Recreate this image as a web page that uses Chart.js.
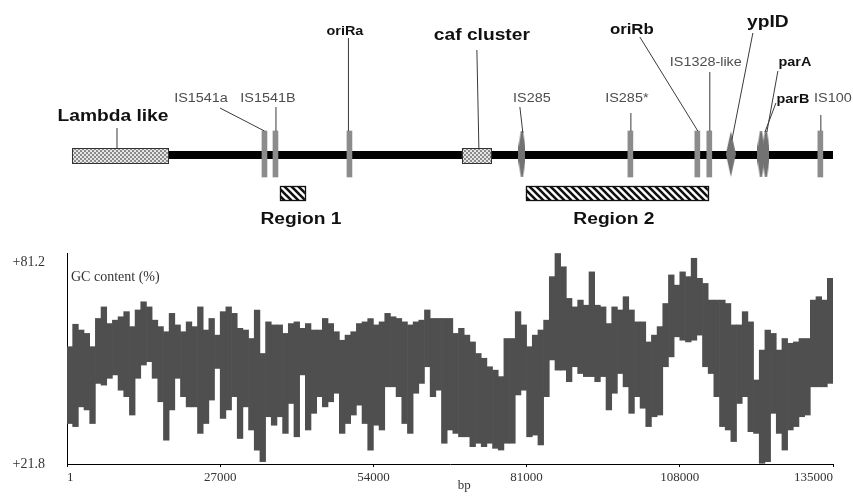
<!DOCTYPE html>
<html>
<head>
<meta charset="utf-8">
<script src="https://cdn.jsdelivr.net/npm/chart.js@4.4.1/dist/chart.umd.min.js"></script>
<style>
  html,body{margin:0;padding:0;background:#fff;}
  #wrap{position:relative;width:853px;height:497px;overflow:hidden;}
  canvas{position:absolute;left:0;}
  #map{top:0;}
  #gc{top:240px;}
</style>
</head>
<body>
<div id="wrap">
  <canvas id="map" width="853" height="240"></canvas>
  <canvas id="gc" width="853" height="257"></canvas>
</div>
<script>
// ---------------- DATA ----------------
const mapStart = 880;
const mapEnd = 135000;

const features   = ['IS1541a','IS1541B','oriRa','IS285','IS285*','oriRb','IS1328-like','ypID','parB','parA','IS100'];
const featurePos = [34800, 36740, 49780, 80170, 99290, 111090, 113200, 117000, 122300, 123170, 132770];

const blocks     = ['Lambda like','caf cluster'];
const blockStart = [880, 69600];
const blockEnd   = [17800, 74700];

const regions     = ['Region 1','Region 2'];
const regionStart = [37530, 80880];
const regionEnd   = [41930, 112940];

const windowBp = 1000;
const gcHigh = [
56.3, 62.9, 61.2, 60.2, 56.3, 64.6, 68.0, 63.1, 64.1, 65.1,
66.6, 62.2, 67.1, 69.5, 68.0, 64.1, 62.2, 60.7, 66.1, 62.7,
60.7, 63.6, 62.2, 68.0, 61.2, 64.6, 59.7, 66.6, 68.0, 66.1,
61.7, 61.2, 58.7, 67.1, 54.3, 63.6, 62.7, 62.7, 60.2, 63.1,
63.6, 61.7, 63.1, 61.2, 61.2, 64.6, 63.1, 60.7, 58.2, 59.7,
60.7, 63.1, 63.6, 64.6, 62.7, 63.6, 66.1, 65.1, 64.6, 63.6,
62.7, 63.6, 64.1, 67.1, 64.6, 64.6, 64.6, 64.6, 60.2, 61.7,
59.7, 57.7, 54.3, 52.9, 50.4, 49.4, 47.5, 58.7, 58.7, 66.6,
62.7, 56.3, 59.7, 61.2, 64.1, 76.9, 83.7, 79.8, 70.5, 68.0,
70.0, 68.5, 78.3, 68.5, 68.0, 63.1, 68.0, 67.1, 71.0, 67.1,
63.6, 63.6, 57.7, 59.7, 62.2, 69.0, 77.4, 74.4, 78.3, 76.9,
82.3, 76.4, 74.9, 70.0, 70.0, 70.0, 69.0, 62.7, 62.7, 66.6,
63.6, 46.5, 55.3, 61.2, 60.2, 55.3, 58.7, 57.3, 57.7, 58.7,
58.7, 70.0, 71.0, 70.0, 76.4
];
const gcLow = [
33.7, 32.8, 38.6, 37.7, 33.7, 45.5, 45.0, 47.0, 48.0, 43.5,
41.6, 36.2, 47.0, 50.9, 51.9, 47.0, 40.1, 28.8, 37.7, 47.0,
41.6, 38.6, 38.6, 30.8, 33.7, 40.6, 49.9, 35.2, 37.7, 41.6,
29.3, 38.6, 31.8, 25.9, 22.5, 35.7, 33.2, 35.7, 30.8, 39.6,
29.8, 48.0, 31.8, 36.7, 41.6, 38.6, 40.1, 42.6, 30.8, 33.7,
36.2, 39.1, 33.7, 25.9, 33.2, 31.8, 44.5, 44.5, 41.6, 33.7,
30.8, 42.6, 45.5, 50.4, 41.6, 43.5, 27.9, 31.8, 30.8, 29.8,
29.8, 26.9, 27.9, 26.9, 27.9, 26.4, 25.9, 27.9, 27.9, 42.1,
43.5, 29.8, 30.3, 27.4, 41.6, 52.4, 49.4, 49.4, 46.0, 50.4,
48.4, 47.5, 47.5, 46.0, 47.5, 37.7, 42.6, 48.4, 44.5, 36.7,
41.6, 38.2, 32.8, 35.7, 36.2, 50.4, 53.3, 59.2, 58.2, 57.7,
58.2, 59.7, 50.4, 48.4, 41.6, 32.8, 31.8, 28.4, 39.6, 41.6,
31.3, 30.8, 22.0, 22.5, 36.7, 30.8, 25.9, 31.8, 32.8, 35.7,
36.2, 44.5, 44.5, 44.5, 45.5
];

const xTicks = [1, 27000, 54000, 81000, 108000, 135000];
const xTickLabels = ['1','27000','54000','81000','108000','135000'];
const yTicks = [21.8, 81.2];
const yTickLabels = ['+21.8','+81.2'];

// ---------------- STYLE / LAYOUT ----------------
const SANS = '"Liberation Sans", Arial, sans-serif';
const SERIF = '"Liberation Serif", "Times New Roman", serif';
const REG = '12px ' + SANS, B12 = 'bold 12px ' + SANS, B14 = 'bold 14px ' + SANS, B16 = 'bold 16px ' + SANS;
const DARK = '#111', GREY = '#4d4d4d';

const track = { axis: 155, barTop: 131, barBottom: 177, boxTop: 148, boxBottom: 163, regTop: 186, regBottom: 200 };

const featureShape = { 'IS285': 'spindle', 'ypID': 'diamond', 'parB': 'spindle', 'parA': 'spindle' };

const labelStyle = {
  'Lambda like': {dx:-7,   y:117, line:[[-3,128],[-3,148]],   font:B16, color:DARK},
  'caf cluster': {dx:5.5,  y:36,  line:[[0.5,50],[2.5,148]],  font:B16, color:DARK},
  'IS1541a':     {dx:-63.5,y:99,  line:[[-44.5,108],[0,131]], font:REG, color:GREY},
  'IS1541B':     {dx:-7.5, y:99,  line:[[0.5,107],[0.5,131]], font:REG, color:GREY},
  'oriRa':       {dx:-4.5, y:32,  line:[[-1,38],[-1,131]],    font:B12, color:DARK},
  'IS285':       {dx:10,   y:99,  line:[[-2,107],[1,133]],    font:REG, color:GREY},
  'IS285*':      {dx:-3.5, y:99,  line:[[0.5,113],[0.5,131]], font:REG, color:GREY},
  'oriRb':       {dx:-65.5,y:30,  line:[[-57.5,37],[0.5,131]],font:B14, color:DARK},
  'IS1328-like': {dx:-3.5, y:63,  line:[[0.5,72],[0.5,131]],  font:REG, color:GREY},
  'ypID':        {dx:37,   y:23,  line:[[22,33],[1,140]],     font:B16, color:DARK},
  'parA':        {dx:29,   y:63,  line:[[12,71],[1,132]],     font:B12, color:DARK},
  'parB':        {dx:32,   y:100, line:[[15,103],[4,132]],    font:B12, color:DARK},
  'IS100':       {dx:12.5, y:99,  line:[[0.5,115],[0.5,131]], font:REG, color:GREY},
  'Region 1':    {dx:8.5,  y:220, font:B16, color:DARK},
  'Region 2':    {dx:-3,   y:220, font:B16, color:DARK}
};

// ---------------- helpers ----------------
function makeShape(kind){
  const w = kind === 'diamond' ? 10 : 7, h = 46;
  const c = document.createElement('canvas'); c.width = w; c.height = h;
  const g = c.getContext('2d');
  g.fillStyle = '#727272';
  g.beginPath();
  if (kind === 'diamond') {
    g.moveTo(w/2, 0); g.lineTo(w, h*0.5); g.lineTo(w/2, h); g.lineTo(0, h*0.5);
  } else {
    g.moveTo(w/2-1, 0); g.lineTo(w/2+1, 0); g.lineTo(w, h*0.35); g.lineTo(w, h*0.65);
    g.lineTo(w/2+1, h); g.lineTo(w/2-1, h); g.lineTo(0, h*0.65); g.lineTo(0, h*0.35);
  }
  g.closePath(); g.fill();
  return c;
}
function meshPattern(ctx){
  const c = document.createElement('canvas'); c.width = 4; c.height = 4;
  const g = c.getContext('2d');
  g.fillStyle = '#8a8a8a'; g.fillRect(0,0,4,4);
  g.fillStyle = '#e6e6e6'; g.fillRect(0,0,2,2); g.fillRect(2,2,2,2);
  return ctx.createPattern(c, 'repeat');
}
function hatchPattern(ctx){
  const s = 7;
  const c = document.createElement('canvas'); c.width = s; c.height = s;
  const g = c.getContext('2d');
  g.fillStyle = '#fff'; g.fillRect(0,0,s,s);
  g.strokeStyle = '#111'; g.lineWidth = 2.6;
  g.beginPath();
  g.moveTo(-1,-1); g.lineTo(s+1,s+1);
  g.moveTo(-1,s-1); g.lineTo(1,s+1);
  g.moveTo(s-1,-1); g.lineTo(s+1,1);
  g.stroke();
  return ctx.createPattern(c, 'repeat');
}
function drawText(ctx, text, x, y, font, color, sx){
  ctx.save();
  ctx.font = font; ctx.fillStyle = color;
  ctx.textAlign = 'center'; ctx.textBaseline = 'middle';
  ctx.translate(x, y); ctx.scale(sx, 1);
  ctx.fillText(text, 0, 0);
  ctx.restore();
}

// ---------------- MAP CHART ----------------
const mapCtx = document.getElementById('map').getContext('2d');

const mapPlugin = {
  id: 'mapDecor',
  afterDatasetsDraw(chart){
    const ctx = chart.ctx, xs = chart.scales.x, ys = chart.scales.y;
    const X = v => xs.getPixelForValue(v), Y = v => ys.getPixelForValue(v);
    const mesh = meshPattern(ctx), hatch = hatchPattern(ctx);

    blocks.forEach((name, i) => {
      const x0 = X(blockStart[i]), x1 = X(blockEnd[i]);
      const y0 = Y(track.boxTop), y1 = Y(track.boxBottom);
      ctx.save();
      ctx.fillStyle = mesh; ctx.fillRect(x0, y0, x1-x0, y1-y0);
      ctx.strokeStyle = '#333'; ctx.lineWidth = 1;
      ctx.strokeRect(Math.round(x0)+0.5, Math.round(y0)+0.5, Math.round(x1-x0), Math.round(y1-y0));
      ctx.restore();
    });
    regions.forEach((name, i) => {
      const x0 = X(regionStart[i]), x1 = X(regionEnd[i]);
      const y0 = Y(track.regTop), y1 = Y(track.regBottom);
      ctx.save();
      ctx.fillStyle = hatch; ctx.fillRect(x0, y0, x1-x0, y1-y0);
      ctx.strokeStyle = '#111'; ctx.lineWidth = 1.3;
      ctx.strokeRect(Math.round(x0)+0.5, Math.round(y0)+0.5, Math.round(x1-x0), Math.round(y1-y0));
      ctx.restore();
    });

    const anchors = [];
    features.forEach((n, i) => anchors.push([n, X(featurePos[i])]));
    blocks.forEach((n, i) => anchors.push([n, (X(blockStart[i]) + X(blockEnd[i])) / 2]));
    regions.forEach((n, i) => anchors.push([n, (X(regionStart[i]) + X(regionEnd[i])) / 2]));

    anchors.forEach(([name, px]) => {
      const st = labelStyle[name];
      if (!st) return;
      if (st.line) {
        ctx.save();
        ctx.strokeStyle = '#3a3a3a'; ctx.lineWidth = 1;
        ctx.beginPath();
        ctx.moveTo(px + st.line[0][0], Y(st.line[0][1]));
        ctx.lineTo(px + st.line[1][0], Y(st.line[1][1]));
        ctx.stroke();
        ctx.restore();
      }
      drawText(ctx, name, px + st.dx, Y(st.y), st.font, st.color, 1.2);
    });
  }
};

const isIdx = features.map((n, i) => i).filter(i => !featureShape[features[i]]);
const shIdx = features.map((n, i) => i).filter(i => featureShape[features[i]]);

new Chart(mapCtx, {
  type: 'scatter',
  data: {
    datasets: [
      {
        type: 'scatter',
        order: 0,
        data: shIdx.map(i => ({x: featurePos[i], y: (track.barTop + track.barBottom) / 2})),
        pointStyle: shIdx.map(i => makeShape(featureShape[features[i]])),
        pointRadius: 5
      },
      {
        type: 'bar',
        order: 1,
        data: isIdx.map(i => ({x: featurePos[i], y: [track.barTop, track.barBottom]})),
        backgroundColor: '#8c8c8c',
        borderWidth: 0,
        barThickness: 5
      },
      {
        type: 'line',
        order: 10,
        data: [{x: mapStart, y: track.axis}, {x: mapEnd, y: track.axis}],
        borderColor: '#000',
        borderWidth: 8,
        borderCapStyle: 'butt',
        pointRadius: 0
      }
    ]
  },
  options: {
    responsive: false,
    animation: false,
    events: [],
    layout: { autoPadding: false, padding: { left: 67, right: 20, top: 0, bottom: 0 } },
    plugins: { legend: { display: false }, tooltip: { enabled: false } },
    scales: {
      x: { type: 'linear', min: 1, max: 135000, display: false, offset: false },
      y: { type: 'linear', min: 0, max: 240, reverse: true, display: false }
    }
  },
  plugins: [mapPlugin]
});

// ---------------- GC CONTENT CHART ----------------
const gcCtx = document.getElementById('gc').getContext('2d');
const gcPlugin = {
  id: 'gcDecor',
  afterDraw(chart){
    const ctx = chart.ctx, a = chart.chartArea;
    ctx.save();
    ctx.fillStyle = '#333';
    ctx.font = '14px ' + SERIF;
    ctx.textAlign = 'left'; ctx.textBaseline = 'middle';
    ctx.fillText('GC content (%)', a.left + 4, a.top + 24);
    ctx.font = '13px ' + SERIF;
    ctx.textAlign = 'center';
    ctx.fillText('bp', chart.scales.x.getPixelForValue(70000), a.bottom + 22);
    ctx.restore();
  }
};

new Chart(gcCtx, {
  type: 'bar',
  data: {
    datasets: [{
      data: gcHigh.map((h, i) => ({x: i * windowBp + windowBp / 2, y: [gcLow[i], h]})),
      backgroundColor: '#4f4f4f',
      borderWidth: 0,
      barPercentage: 1,
      categoryPercentage: 1
    }]
  },
  options: {
    responsive: false,
    animation: false,
    events: [],
    layout: { autoPadding: false, padding: { left: 0, right: 20, top: 13, bottom: 0 } },
    plugins: { legend: { display: false }, tooltip: { enabled: false } },
    scales: {
      x: {
        type: 'linear', min: 1, max: 135000, offset: false,
        afterBuildTicks: ax => { ax.ticks = xTicks.map(v => ({value: v})); },
        afterFit: ax => { ax.height = 33; ax.paddingLeft = 0; ax.paddingRight = 0; },
        ticks: {
          callback: (v, i) => xTickLabels[i],
          align: 'inner', autoSkip: false, maxRotation: 0,
          font: { family: SERIF, size: 13 }, color: '#333', padding: 3
        },
        grid: { drawOnChartArea: false, drawTicks: true, tickLength: 3, color: '#000', offset: false },
        border: { display: true, color: '#000', width: 1 }
      },
      y: {
        type: 'linear', min: 21.8, max: 83.85,
        afterBuildTicks: ax => { ax.ticks = yTicks.map(v => ({value: v})); },
        afterFit: ax => { ax.width = 67; ax.paddingTop = 0; ax.paddingBottom = 0; },
        ticks: {
          callback: (v, i) => yTickLabels[i],
          font: { family: SERIF, size: 14 }, color: '#333', padding: 22
        },
        grid: { drawOnChartArea: false, drawTicks: false },
        border: { display: true, color: '#000', width: 1 }
      }
    }
  },
  plugins: [gcPlugin]
});
</script>
</body>
</html>
